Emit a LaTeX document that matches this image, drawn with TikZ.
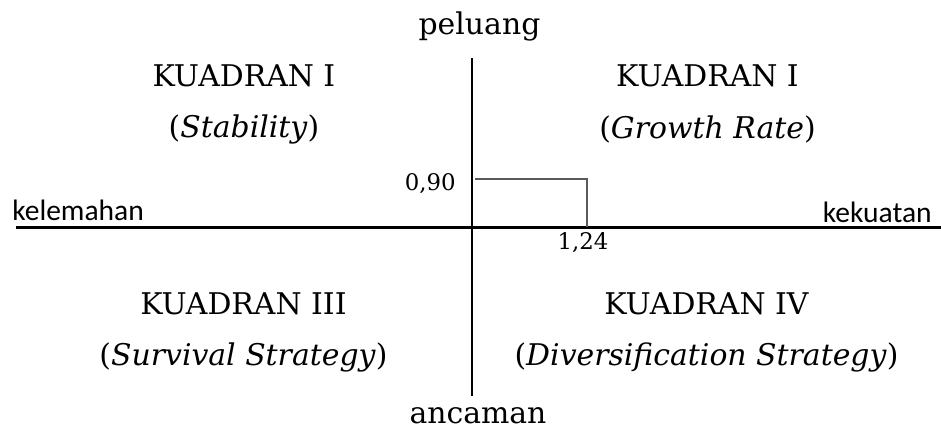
\documentclass[tikz,border=0pt]{standalone}
\usepackage{fontspec}
\setmainfont{DejaVu Serif}
\newfontfamily\sidefont{Carlito}
\usetikzlibrary{positioning}

\begin{document}
\begin{tikzpicture}[node distance=1.06cm, quad/.style={font=\fontsize{17}{20}\selectfont}, side/.style={font=\sidefont\fontsize{16.8}{19}\selectfont, inner sep=0pt}, val/.style={font=\fontsize{13}{15}\selectfont, inner sep=0pt, anchor=base}]
   \useasboundingbox (-9.44,-4.02) rectangle (9.38,4.54);

   % axes
   \coordinate (W) at (-9.12,0);
   \coordinate (E) at (9.38,0);
   \coordinate (N) at (0,3.38);
   \coordinate (S) at (0,-3.38);
   \draw[line width=1.7pt] (W) -- (E);
   \draw[line width=1.1pt] (N) -- (S);

   \node[quad, anchor=base] (up) at (0.15,3.86) {peluang};
   \node[quad, anchor=base] (down) at (0.12,-3.92) {ancaman};
   \node[side, anchor=base west] (left) at (-9.2,0.14) {kelemahan};
   \node[side, anchor=base east] (right) at (9.2,0.10) {kekuatan};

   % quadrants
   \node[quad] (q1) at (-4.56,3.02) {KUADRAN I};
   \node[quad] (s1) [below of=q1] {(\textit{Stability})};
   \node[quad] (q2) at (4.71,3.02) {KUADRAN I};
   \node[quad] (s2) [below of=q2] {(\textit{Growth Rate})};
   \node[quad] (q3) at (-4.57,-1.54) {KUADRAN III};
   \node[quad] (s3) [below of=q3] {(\textit{Survival Strategy})};
   \node[quad] (q4) at (4.69,-1.54) {KUADRAN IV};
   \node[quad] (s4) [below of=q4] {(\textit{Diversification Strategy})};

   % position point
   \coordinate (py) at (0.06,0.96);
   \coordinate (px) at (2.30,0);
   \draw[line width=0.7pt, black!65] (py) -| (px);
   \node[val, anchor=base east] (vy) at (-0.32,0.74) {0,90};
   \node[val] (vx) at (2.22,-0.44) {1,24};
\end{tikzpicture}
\end{document}
